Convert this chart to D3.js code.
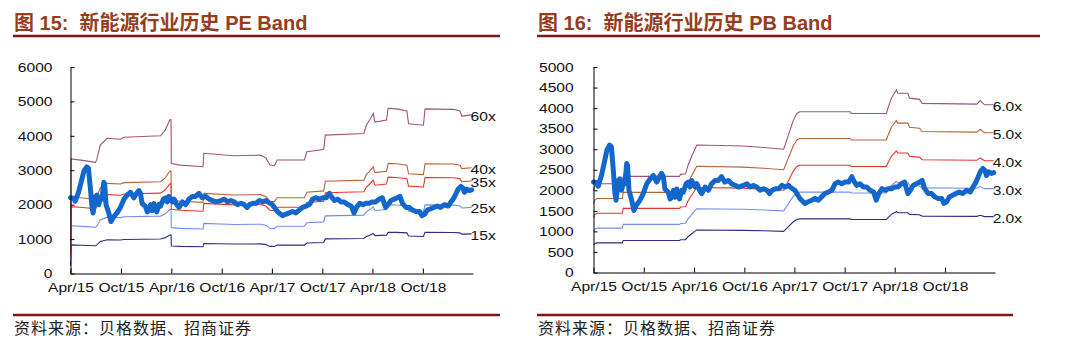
<!DOCTYPE html>
<html>
<head>
<meta charset="utf-8">
<script src="https://cdn.jsdelivr.net/npm/d3@7"></script>
<style>
  body { margin: 0; background: #fff; }
  svg { display: block; }
</style>
</head>
<body>
<svg id="chart" width="1080" height="352"></svg>
<script>
// index level (same series on both charts)
const indexSeries = [
  ["2015-04-01",2200],["2015-04-12",2190],["2015-04-18",2100],["2015-04-30",2360],["2015-05-12",2730],
  ["2015-05-20",2980],["2015-05-30",3100],["2015-06-05",3060],["2015-06-12",2490],["2015-06-18",1930],
  ["2015-06-22",1760],["2015-07-01",2240],["2015-07-06",2280],["2015-07-12",2000],["2015-07-18",2160],
  ["2015-07-24",2160],["2015-07-31",2650],["2015-08-03",2600],["2015-08-08",2000],["2015-08-18",1760],
  ["2015-08-26",1510],["2015-09-05",1650],["2015-09-17",1760],["2015-09-29",1920],["2015-10-12",2160],
  ["2015-10-24",2280],["2015-11-05",2360],["2015-11-11",2280],["2015-11-17",2200],["2015-11-27",2330],
  ["2015-12-05",2410],["2015-12-11",2330],["2015-12-17",2030],["2015-12-29",1950],["2016-01-05",1790],
  ["2016-01-11",1830],["2016-01-17",2000],["2016-01-23",1830],["2016-01-29",2030],["2016-02-08",1790],
  ["2016-02-16",2000],["2016-02-22",1960],["2016-03-03",2160],["2016-03-11",2200],["2016-03-17",2080],
  ["2016-03-23",2240],["2016-03-29",2160],["2016-04-05",2080],["2016-04-11",2160],["2016-04-21",2000],
  ["2016-04-29",1920],["2016-05-05",2000],["2016-05-11",2080],["2016-05-23",2000],["2016-06-04",2160],
  ["2016-06-16",2240],["2016-06-28",2240],["2016-07-10",2330],["2016-07-22",2200],["2016-08-04",2240],
  ["2016-08-16",2160],["2016-08-28",2120],["2016-09-10",2080],["2016-09-28",2120],["2016-10-10",2160],
  ["2016-10-22",2080],["2016-11-03",2120],["2016-11-15",2080],["2016-11-27",2000],["2016-12-10",2040],
  ["2016-12-22",2000],["2017-01-01",1920],["2017-01-10",2000],["2017-01-22",2040],["2017-02-03",2040],
  ["2017-02-15",2120],["2017-02-27",2080],["2017-03-11",2120],["2017-03-16",2080],["2017-04-03",2000],
  ["2017-04-21",1800],["2017-05-09",1680],["2017-05-21",1720],["2017-06-03",1760],["2017-06-15",1800],
  ["2017-06-27",1760],["2017-07-09",1840],["2017-07-21",1920],["2017-08-03",1960],["2017-08-15",2000],
  ["2017-08-27",2160],["2017-09-08",2200],["2017-09-20",2160],["2017-10-03",2200],["2017-10-15",2200],
  ["2017-10-27",2330],["2017-11-02",2240],["2017-11-14",2120],["2017-11-26",2160],["2017-12-08",2080],
  ["2017-12-20",2080],["2018-01-02",2000],["2018-01-14",1960],["2018-01-24",1760],["2018-02-02",1920],
  ["2018-02-14",2040],["2018-02-26",2000],["2018-03-08",2040],["2018-03-20",2040],["2018-04-01",2080],
  ["2018-04-13",2080],["2018-04-25",2160],["2018-05-07",2200],["2018-05-19",1920],["2018-05-28",2000],
  ["2018-06-07",2120],["2018-06-19",2160],["2018-07-01",2200],["2018-07-10",2240],["2018-07-19",2040],
  ["2018-08-01",1920],["2018-08-13",1920],["2018-08-25",1840],["2018-09-06",1800],["2018-09-19",1800],
  ["2018-09-27",1680],["2018-10-07",1720],["2018-10-17",1840],["2018-10-29",1880],["2018-11-10",1920],
  ["2018-11-22",1960],["2018-12-04",1920],["2018-12-19",2000],["2019-01-01",1960],["2019-01-11",2080],
  ["2019-01-19",2160],["2019-01-27",2280],["2019-02-06",2450],["2019-02-16",2530],["2019-02-24",2480],
  ["2019-03-01",2360],["2019-03-09",2450],["2019-03-19",2410],["2019-03-27",2430]
];

// earnings per index point (1x PE line)
const peEps = [
  ["2015-04-01",15],["2015-04-03",55.5],["2015-05-15",54.8],["2015-07-01",53.8],["2015-07-06",55.5],
  ["2015-07-18",62.2],["2015-08-12",65.5],["2015-09-29",65],["2015-10-12",66],["2016-02-22",66.7],
  ["2016-03-10",69.5],["2016-03-26",74.3],["2016-03-31",74.5],["2016-04-01",53.3],["2016-05-04",52.5],
  ["2016-07-25",51.7],["2016-07-28",58.2],["2016-11-13",57],["2017-02-18",57.3],["2017-03-10",56],
  ["2017-03-25",52.5],["2017-04-10",52.2],["2017-04-20",55],["2017-07-28",55],["2017-08-06",59],
  ["2017-10-06",60],["2017-10-12",67],["2018-03-01",67.8],["2018-03-10",71.8],["2018-03-22",74.3],
  ["2018-04-04",77.5],["2018-04-10",73.3],["2018-05-22",74.3],["2018-05-28",80],["2018-06-28",79.7],
  ["2018-08-04",78.7],["2018-08-10",72.5],["2018-10-03",71.8],["2018-10-09",79.7],["2019-01-19",79.5],
  ["2019-02-13",78.7],["2019-02-19",76.2],["2019-03-27",76.8]
];

// book value per index point (1x PB line)
const pbBvps = [
  ["2015-04-01",335],["2015-04-07",355],["2015-04-15",360],["2015-07-15",360],["2015-07-18",390],
  ["2016-02-08",390],["2016-02-12",398],["2016-03-01",400],["2016-03-10",435],["2016-03-20",462],
  ["2016-04-05",503],["2016-04-11",517],["2016-09-28",513],["2016-12-10",507],["2017-02-21",500],
  ["2017-03-04",537],["2017-03-28",617],["2017-04-10",645],["2017-04-20",652],["2017-10-21",652],
  ["2017-10-25",645],["2018-03-02",645],["2018-03-05",658],["2018-03-20",707],["2018-04-07",740],
  ["2018-04-12",727],["2018-05-19",727],["2018-05-25",707],["2018-06-30",702],["2018-07-10",686],
  ["2019-01-25",683],["2019-02-06",697],["2019-02-22",680],["2019-03-27",680]
];

const peMultiples = [15, 25, 35, 40, 60];
const peLabels = ["15x", "25x", "35x", "40x", "60x"];
const pbMultiples = [2, 3, 4, 5, 6];
const pbLabels = ["2.0x", "3.0x", "4.0x", "5.0x", "6.0x"];
const bandColors = ["#2b2d7f", "#7090ee", "#e8352e", "#b5633b", "#a2527a"];

const peTicks = [0, 1000, 2000, 3000, 4000, 5000, 6000];
const pbTicks = [0, 500, 1000, 1500, 2000, 2500, 3000, 3500, 4000, 4500, 5000];
const xDomain = ["2015-04-01", "2019-04-01"];
const xTickDates = ["2015-04-01","2015-10-01","2016-04-01","2016-10-01",
                    "2017-04-01","2017-10-01","2018-04-01","2018-10-01"];

const parse = d3.timeParse("%Y-%m-%d");
const fmt = d3.timeFormat("%b/%y");
const svg = d3.select("#chart");
const latin = "'Liberation Sans', Arial, sans-serif";
const cjk = "'Liberation Sans', 'Noto Sans CJK SC', sans-serif";

function drawPanel(p) {
  const g = svg.append("g");

  const x = d3.scaleTime().domain(xDomain.map(parse)).range([p.x0, p.x1]);
  const y = d3.scaleLinear().domain([0, p.yMax]).range([p.y0, p.y1]);

  // title + rules
  g.append("text")
    .attr("x", p.titleX).attr("y", 29.5)
    .attr("font-family", cjk).attr("font-size", 20).attr("font-weight", "bold")
    .attr("fill", "#983c1e").style("white-space", "pre")
    .text(p.title);
  g.append("line")
    .attr("x1", p.titleX - 1).attr("x2", p.ruleTopEnd).attr("y1", 36).attr("y2", 36)
    .attr("stroke", "#7e1718").attr("stroke-width", 2.5);
  g.append("line")
    .attr("x1", p.titleX - 1).attr("x2", p.ruleBotEnd).attr("y1", 315).attr("y2", 315)
    .attr("stroke", "#7e1718").attr("stroke-width", 2.5);
  g.append("text")
    .attr("x", p.titleX).attr("y", 334)
    .attr("font-family", "'Noto Sans CJK SC', sans-serif").attr("font-size", 16)
    .attr("letter-spacing", 1).attr("fill", "#222")
    .text("资料来源：贝格数据、招商证券");

  // bands
  const base = p.base.map(d => ({ date: parse(d[0]), v: d[1] }));
  p.multiples.forEach((m, i) => {
    g.append("path")
      .datum(base)
      .attr("fill", "none")
      .attr("stroke", bandColors[i])
      .attr("stroke-width", 1.1)
      .attr("d", d3.line().x(d => x(d.date)).y(d => y(d.v * m)));
  });

  // index
  const idx = indexSeries.map(d => ({ date: parse(d[0]), v: d[1] }));
  g.append("path")
    .datum(idx)
    .attr("fill", "none")
    .attr("stroke", "#1266cc")
    .attr("stroke-width", 5)
    .attr("stroke-linejoin", "round")
    .attr("stroke-linecap", "round")
    .attr("d", d3.line().x(d => x(d.date)).y(d => y(d.v)));

  // band labels
  const last = base[base.length - 1];
  p.multiples.forEach((m, i) => {
    g.append("text")
      .attr("transform", `translate(${x(last.date) - 1},${y(last.v * m) + 1.5}) scale(1.2,1)`)
      .attr("dy", "0.35em")
      .attr("font-family", latin).attr("font-size", 13).attr("fill", "#111")
      .text(p.labels[i]);
  });

  // axes
  const xAxis = g.append("g")
    .attr("transform", `translate(0,${p.y0})`)
    .call(d3.axisBottom(x).tickValues(xTickDates.map(parse)).tickFormat(fmt)
      .tickSizeInner(-5).tickSizeOuter(0));
  xAxis.select(".domain").attr("stroke", "#000");
  xAxis.selectAll(".tick line").attr("stroke", "#000");
  xAxis.selectAll(".tick text")
    .attr("y", 9).attr("transform", "scale(1.2,1)")
    .attr("font-family", latin).attr("font-size", 13).attr("fill", "#111");

  const yAxis = g.append("g")
    .attr("transform", `translate(${p.x0},0)`)
    .call(d3.axisLeft(y).tickValues(p.yTicks).tickFormat(d3.format("d"))
      .tickSizeInner(-4).tickSizeOuter(0));
  yAxis.select(".domain").attr("stroke", "#000");
  yAxis.selectAll(".tick line").attr("stroke", "#000");
  yAxis.selectAll(".tick text")
    .attr("x", p.labelOffset).attr("transform", "scale(1.2,1)")
    .attr("font-family", latin).attr("font-size", 13).attr("fill", "#111");
}

drawPanel({
  title: "图 15:  新能源行业历史 PE Band",
  titleX: 14, ruleTopEnd: 500, ruleBotEnd: 500,
  x0: 70.5, x1: 473, y0: 273.5, y1: 67, yMax: 6000, yTicks: peTicks,
  base: peEps, multiples: peMultiples, labels: peLabels, labelOffset: -15
});

drawPanel({
  title: "图 16:  新能源行业历史 PB Band",
  titleX: 538, ruleTopEnd: 1040, ruleBotEnd: 1013,
  x0: 593.5, x1: 995, y0: 272.5, y1: 67, yMax: 5000, yTicks: pbTicks,
  base: pbBvps, multiples: pbMultiples, labels: pbLabels, labelOffset: -16.5
});
</script>
</body>
</html>
